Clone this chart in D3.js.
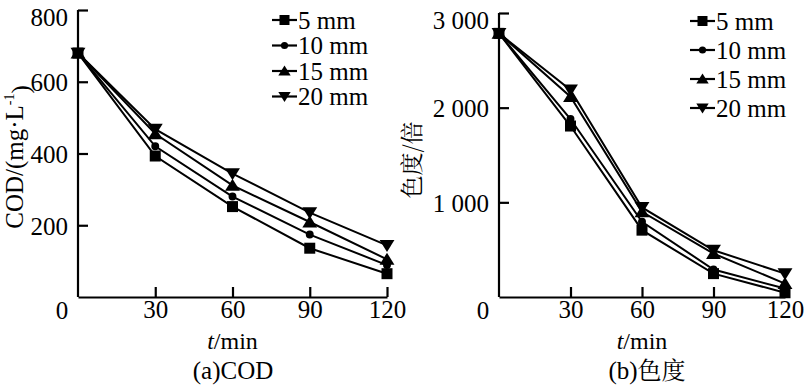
<!DOCTYPE html>
<html><head><meta charset="utf-8">
<script src="https://cdn.jsdelivr.net/npm/d3@7/dist/d3.min.js"></script>
<style>body{margin:0;background:#fff}svg{display:block}</style>
</head><body>
<svg id="c" width="812" height="391"></svg>
<script>
const times = [0, 30, 60, 90, 120];
const seriesNames = ["5 mm", "10 mm", "15 mm", "20 mm"];
const symbols = ["square", "circle", "triangle", "triangleDown"];
const cod5 = [680, 393, 252, 136, 65];
const cod10 = [680, 420, 280, 174, 89];
const cod15 = [680, 455, 311, 209, 105];
const cod20 = [680, 468, 344, 235, 144];
const col5 = [2785, 1806, 706, 247, 45];
const col10 = [2785, 1880, 794, 290, 89];
const col15 = [2785, 2116, 900, 459, 142];
const col20 = [2785, 2187, 946, 494, 247];
const xTicks = [30, 60, 90, 120];
const codTicks = [200, 400, 600, 800];
const colTicks = [1000, 2000, 3000];

const SERIF = '"Liberation Serif"';
const CJK = '"Noto Serif CJK SC"';
const svg = d3.select("#c");

function symPath(type, s) {
  if (type === "square") return `M${-s/2},${-s/2}h${s}v${s}h${-s}Z`;
  if (type === "circle") { const r = s*0.36; return `M${r},0A${r},${r},0,1,1,${-r},0A${r},${r},0,1,1,${r},0Z`; }
  if (type === "triangle") return `M0,${-s*0.55}L${s*0.62},${s*0.45}L${-s*0.62},${s*0.45}Z`;
  return `M0,${s*0.55}L${s*0.62},${-s*0.45}L${-s*0.62},${-s*0.45}Z`;
}

function panel(o) {
  const g = svg.append("g");
  const x = d3.scaleLinear().domain([0, 120]).range([o.x0, o.x1]);
  const y = d3.scaleLinear().domain([0, o.ymax]).range([o.y0, o.y1]);
  const ya = g.append("g").attr("transform", `translate(${o.x0},0)`)
    .call(d3.axisLeft(y).tickValues(o.yTicks).tickSize(-10).tickSizeOuter(0).tickPadding(10).tickFormat(o.fmt));
  const xa = g.append("g").attr("transform", `translate(0,${o.y0})`)
    .call(d3.axisBottom(x).tickValues(xTicks).tickSize(-10).tickSizeOuter(0).tickPadding(6));
  [ya, xa].forEach(a => {
    a.attr("font-family", null).attr("font-size", null);
    a.select(".domain").attr("stroke", "#000").attr("stroke-width", 2.2);
    a.selectAll(".tick line").attr("stroke", "#000").attr("stroke-width", 2.2);
    a.selectAll("text").attr("fill", "#000").style("font-family", SERIF).style("font-size", o.tickFs + "px");
  });
  ya.select(".domain").attr("d", `M0,${o.y0}V${y(o.ymax)}`);
  ya.selectAll(".tick text").attr("dy", "0.36em")
    .attr("y", d => d === o.ymax ? 6 : 0);
  xa.selectAll(".tick text").attr("dy", "0.6em");
  g.append("text").attr("x", o.x0 - 16).attr("y", o.y0 + 13).attr("dy", "0.35em")
    .attr("text-anchor", "middle").style("font-family", SERIF).style("font-size", o.tickFs + "px").text("0");

  const line = d3.line().x((d, i) => x(times[i])).y(d => y(d));
  o.data.forEach((arr, k) => {
    g.append("path").attr("d", line(arr)).attr("fill", "none").attr("stroke", "#000").attr("stroke-width", 2);
    arr.forEach((v, i) => {
      g.append("path").attr("d", symPath(symbols[k], k === 2 || k === 3 ? 12 : 11))
        .attr("transform", `translate(${x(times[i])},${y(v)})`).attr("fill", "#000");
    });
  });

  seriesNames.forEach((n, k) => {
    const ly = o.legY + k * o.legDy;
    g.append("line").attr("x1", o.legX).attr("x2", o.legX + 25).attr("y1", ly).attr("y2", ly)
      .attr("stroke", "#000").attr("stroke-width", 2.2);
    g.append("path").attr("d", symPath(symbols[k], 10)).attr("transform", `translate(${o.legX + 12.5},${ly})`).attr("fill", "#000");
    g.append("text").attr("x", o.legX + 26).attr("y", ly).attr("dy", "0.35em")
      .style("font-family", SERIF).style("font-size", o.legFs + "px").text(n);
  });

  const xl = g.append("text").attr("x", (o.x0 + o.x1) / 2).attr("y", 341).attr("dy", "0.35em")
    .attr("text-anchor", "middle").style("font-family", SERIF).style("font-size", "24px");
  xl.append("tspan").style("font-style", "italic").text("t");
  xl.append("tspan").text("/min");
  const cap = g.append("text").attr("x", o.capX).attr("y", 370).attr("dy", "0.35em")
    .attr("text-anchor", "middle").style("font-family", SERIF).style("font-size", "25px");
  cap.append("tspan").text(o.capA);
  if (o.capB) cap.append("tspan").style("font-family", CJK).style("font-size", "24px").text(o.capB);
  const yl = g.append("text").attr("transform", `translate(${o.ylX},${o.ylY}) rotate(-90)`).attr("dy", "0.35em")
    .attr("text-anchor", "middle").style("font-family", o.ylFont).style("font-size", o.ylFs + "px");
  o.ylBuild(yl);
}

panel({
  x0: 78, x1: 387, y0: 297, y1: 10, ymax: 800, yTicks: codTicks, fmt: d3.format("d"), tickFs: 25,
  data: [cod5, cod10, cod15, cod20],
  legX: 272, legY: 20, legDy: 25.5, legFs: 25,
  capX: 233, capA: "(a)COD", capB: null,
  ylX: 14, ylY: 157, ylFs: 25, ylFont: SERIF,
  ylBuild: t => { t.append("tspan").text("COD/(mg·L"); t.append("tspan").attr("dy", "-0.6em").style("font-size", "14px").text("-1");
                  t.append("tspan").attr("dy", "0.6em").text(")"); }
});

panel({
  x0: 499, x1: 785, y0: 297, y1: 13, ymax: 3000, yTicks: colTicks, tickFs: 25,
  fmt: d => d3.format(",")(d).replace(",", " "),
  data: [col5, col10, col15, col20],
  legX: 690, legY: 21, legDy: 29, legFs: 25,
  capX: 647, capA: "(b)", capB: "色度",
  ylX: 412, ylY: 160, ylFs: 23, ylFont: CJK,
  ylBuild: t => t.text("色度/倍")
});
</script>
</body></html>
